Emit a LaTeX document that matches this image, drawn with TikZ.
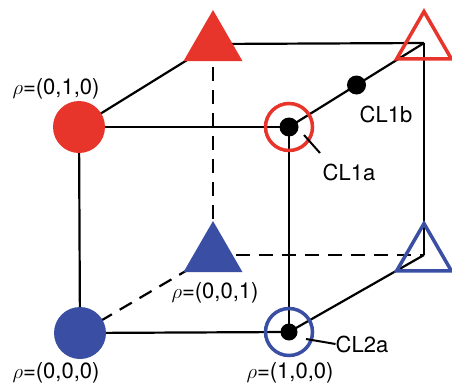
\documentclass[tikz,border=0pt]{standalone}
\usepackage{fontspec}
\setmainfont{TeX Gyre Heros}
\usetikzlibrary{shapes.geometric,backgrounds,calc}
\definecolor{cred}{HTML}{E8352B}
\definecolor{cblue}{HTML}{3A4FA3}
\tikzset{
  edge/.style={line width=2.2pt, black},
  hidden/.style={edge, dash pattern=on 14pt off 9pt},
  fcirc/.style={circle, inner sep=0pt, minimum size=52pt, fill=#1},
  rcirc/.style={circle, inner sep=0pt, minimum size=47pt, draw=#1, line width=3.5pt},
  ftri/.style={regular polygon, regular polygon sides=3, inner sep=0pt, minimum size=68pt, fill=#1},
  otri/.style={regular polygon, regular polygon sides=3, inner sep=0pt, minimum size=63pt, draw=#1, line width=3.5pt},
  dot/.style={circle, inner sep=0pt, minimum size=#1, fill=black},
  lab/.style={font=\fontsize{22}{24}\selectfont, inner sep=0pt},
  lead/.style={line width=2pt, black}
}
\begin{document}
\begin{tikzpicture}[x=1pt,y=-1pt]
\useasboundingbox (0,0) rectangle (452,388);
% corners
\node[fcirc=cred]  (A) at (79,127) {};
\node[rcirc=cred]  (B) at (289,127) {};
\node[fcirc=cblue] (C) at (80,333) {};
\node[rcirc=cblue] (D) at (289,332) {};
\node[ftri=cred]   (E) at (213,44) {};
\node[otri=cred]   (F) at (424,43) {};
\node[ftri=cblue]  (G) at (213,255) {};
\node[otri=cblue]  (H) at (424,255) {};
% dots
\node[dot=19pt] (d1) at (B.center) {};
\node[dot=19pt] (d2) at ($(B.center)!0.5!(F.center)$) {};
\node[dot=17pt] (d3) at (D.center) {};
% edges
\begin{scope}[on background layer]
\draw[edge] (A.center) -- (B.center);
\draw[edge] (A.center) -- (C.center);
\draw[edge] (B.center) -- (D.center);
\draw[edge] (C.center) -- (D.center);
\draw[edge] (E.center) -- (F.center);
\draw[edge] (F.center) -- (H.center);
\draw[hidden] (E.center) -- (G.center);
\draw[hidden] (G.center) -- (H.center);
\draw[edge] (A.center) -- (E.center);
\draw[edge] (B.center) -- (F.center);
\draw[edge] (D.center) -- (H.center);
\draw[hidden] (C.center) -- (G.center);
\end{scope}
% labels
\node[lab] (lA) at (56,89) {$\rho$=(0,1,0)};
\node[lab] (lC) at (56,373) {$\rho$=(0,0,0)};
\node[lab] (lG) at (215,293) {$\rho$=(0,0,1)};
\node[lab] (lD) at (290,373) {$\rho$=(1,0,0)};
\node[lab] (l1b) at (386,114) {CL1b};
\node[lab] (l1a) at (349,172) {CL1a};
\node[lab] (l2a) at (362,344) {CL2a};
\coordinate (p1a) at (304,135);
\coordinate (q1a) at (320,153);
\coordinate (p2a) at (306,339);
\draw[lead] (p1a) -- (q1a);
\draw[lead] (p2a) -- (l2a.west);
\end{tikzpicture}
\end{document}
